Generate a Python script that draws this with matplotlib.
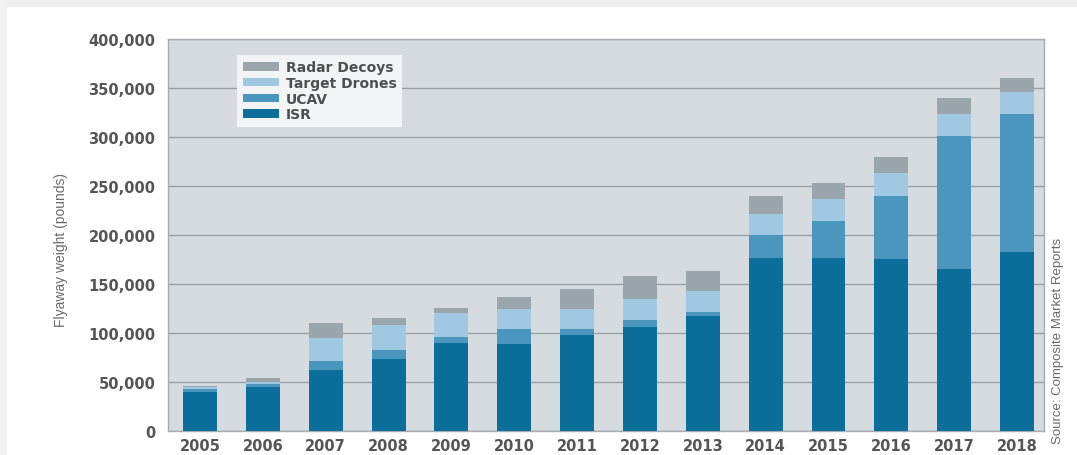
import matplotlib
matplotlib.use("Agg")
from matplotlib import pyplot as plt
from matplotlib.patches import Rectangle
import numpy as np

years = ["2005", "2006", "2007", "2008", "2009", "2010", "2011",
         "2012", "2013", "2014", "2015", "2016", "2017", "2018"]
# values in thousands of pounds
isr = [40, 45, 62, 74, 90, 89, 98, 106, 117, 177, 177, 176, 165, 183]
ucav = [3, 2.5, 9, 9, 6, 15, 6, 7, 4, 23, 37, 64, 136, 141]
target = [2, 2.5, 24, 25, 24, 21, 21, 22, 22, 22, 23, 23, 23, 22]
radar = [1, 4, 15, 7, 6, 12, 20, 23, 20, 18, 16, 17, 16, 14]

series = [("ISR", isr, "#0b6e9b"),
          ("UCAV", ucav, "#4a96bf"),
          ("Target Drones", target, "#a0c8e2"),
          ("Radar Decoys", radar, "#9ba5ac")]

plt.rcParams['font.family'] = ['DejaVu Sans']
thin = ["Liberation Sans", "DejaVu Sans"]

fig = plt.figure(figsize=(10.77, 4.56), dpi=100, facecolor="white")
# faint outer frame
fig.patches.append(Rectangle((0, 0.982), 1, 0.018, transform=fig.transFigure,
                             facecolor="#eeeeee", edgecolor="none", zorder=0))
fig.patches.append(Rectangle((0, 0), 0.0065, 1, transform=fig.transFigure,
                             facecolor="#f2f2f2", edgecolor="none", zorder=0))

ax = fig.add_axes([0.156, 0.0526, 0.8134, 0.8594])
ax.set_facecolor("#d5dbde")

x = np.arange(len(years))
bottom = np.zeros(len(years))
handles = {}
for name, vals, col in series:
    v = np.array(vals) * 1000
    handles[name] = ax.bar(x, v, 0.54, bottom=bottom, color=col, zorder=3, label=name)
    bottom += v

ax.set_ylim(0, 400000)
ax.set_xlim(-0.51, 13.43)
ax.set_yticks(np.arange(0, 400001, 50000))
ax.set_yticklabels([f"{int(t):,}" for t in np.arange(0, 400001, 50000)])
ax.set_xticks(x)
ax.set_xticklabels(years)
ax.yaxis.grid(True, color="#9a9fa3", linewidth=1, zorder=1)
ax.tick_params(length=0, labelsize=10.5, labelcolor="#555555")
for lab in ax.get_xticklabels() + ax.get_yticklabels():
    lab.set_fontweight("bold")
ax.tick_params(axis="y", pad=9)
ax.tick_params(axis="x", pad=5)
for s in ax.spines.values():
    s.set_color("#a8adb1")
    s.set_linewidth(1)

ax.set_ylabel("Flyaway weight (pounds)", fontsize=10, color="#6a6a6a",
              family=thin)
ax.yaxis.set_label_coords(-0.114, 0.464)

order = ["Radar Decoys", "Target Drones", "UCAV", "ISR"]
leg = ax.legend([handles[n] for n in order], order, loc="upper left",
                bbox_to_anchor=(0.079, 0.96), borderaxespad=0,
                prop={"size": 10, "weight": "bold"}, frameon=True,
                fancybox=False, handlelength=2.6, handleheight=0.55,
                handletextpad=0.5, labelspacing=0.12, borderpad=0.4)
leg.get_frame().set_facecolor("#f3f4f5")
leg.get_frame().set_edgecolor("none")
leg.get_frame().set_alpha(1)
for t in leg.get_texts():
    t.set_color("#4f4f4f")

fig.text(0.982, 0.252, "Source: Composite Market Reports", rotation=90,
         ha="center", va="center", fontsize=9.5, color="#6a6a6a",
         family=thin)

fig.savefig("out.png", dpi=100, facecolor="white")
